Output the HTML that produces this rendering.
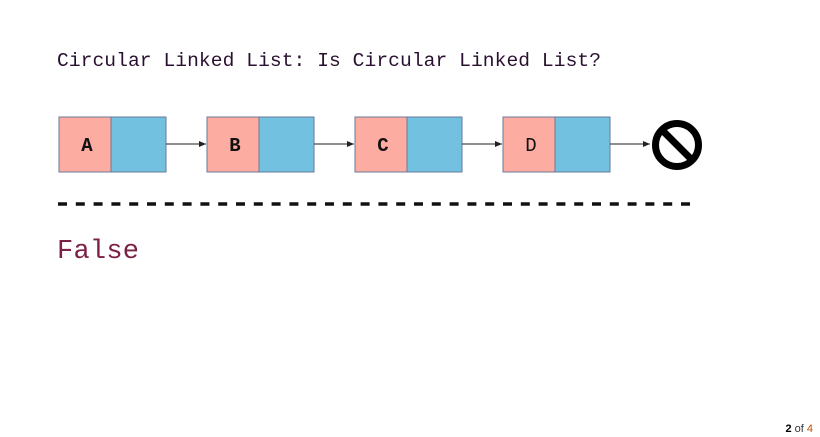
<!DOCTYPE html>
<html><head><style>
body{margin:0;width:820px;height:437px;background:#fff;overflow:hidden;position:relative}
</style></head><body>
<svg width="820" height="437" style="position:absolute;left:0;top:0">
<defs><marker id="a" markerWidth="8" markerHeight="8" refX="7" refY="4" orient="auto"><path d="M0,1 L7,4 L0,7 z" fill="#222"/></marker></defs>
<text x="57" y="66" font-family="Liberation Mono, monospace" font-size="19.6" fill="#2a1030" textLength="544" lengthAdjust="spacing">Circular Linked List: Is Circular Linked List?</text>
<g font-family="Liberation Mono, monospace" font-size="19" font-weight="bold" fill="#111" text-anchor="middle">
<g transform="translate(59,117)"><rect x="0" y="0" width="52" height="55" fill="#fdaca2" stroke="#6a7a9a"/><rect x="52" y="0" width="55" height="55" fill="#72c1e0" stroke="#6a7a9a"/><text x="28" y="34">A</text></g>
<g transform="translate(207,117)"><rect x="0" y="0" width="52" height="55" fill="#fdaca2" stroke="#6a7a9a"/><rect x="52" y="0" width="55" height="55" fill="#72c1e0" stroke="#6a7a9a"/><text x="28" y="34">B</text></g>
<g transform="translate(355,117)"><rect x="0" y="0" width="52" height="55" fill="#fdaca2" stroke="#6a7a9a"/><rect x="52" y="0" width="55" height="55" fill="#72c1e0" stroke="#6a7a9a"/><text x="28" y="34">C</text></g>
<g transform="translate(503,117)"><rect x="0" y="0" width="52" height="55" fill="#fdaca2" stroke="#6a7a9a"/><rect x="52" y="0" width="55" height="55" fill="#72c1e0" stroke="#6a7a9a"/><text x="28" y="34" font-weight="normal">D</text></g>
</g>
<g stroke="#222" stroke-width="1" marker-end="url(#a)">
<line x1="166" y1="144" x2="206" y2="144"/><line x1="314" y1="144" x2="354" y2="144"/><line x1="462" y1="144" x2="502" y2="144"/><line x1="610" y1="144" x2="650" y2="144"/>
</g>
<circle cx="677" cy="145" r="21.5" fill="none" stroke="#000" stroke-width="7"/>
<line x1="662" y1="130" x2="692" y2="160" stroke="#000" stroke-width="7"/>
<line x1="58" y1="204" x2="690" y2="204" stroke="#111" stroke-width="3.5" stroke-dasharray="9 8.8"/>
<text x="57" y="258" font-family="Liberation Mono, monospace" font-size="27" fill="#7a1f45" textLength="82" lengthAdjust="spacing">False</text>
<text x="813" y="432" font-family="Liberation Sans, sans-serif" font-size="11" text-anchor="end" fill="#333"><tspan font-weight="bold" fill="#000">2</tspan> of <tspan fill="#c05000">4</tspan></text>
</svg>
</body></html>
